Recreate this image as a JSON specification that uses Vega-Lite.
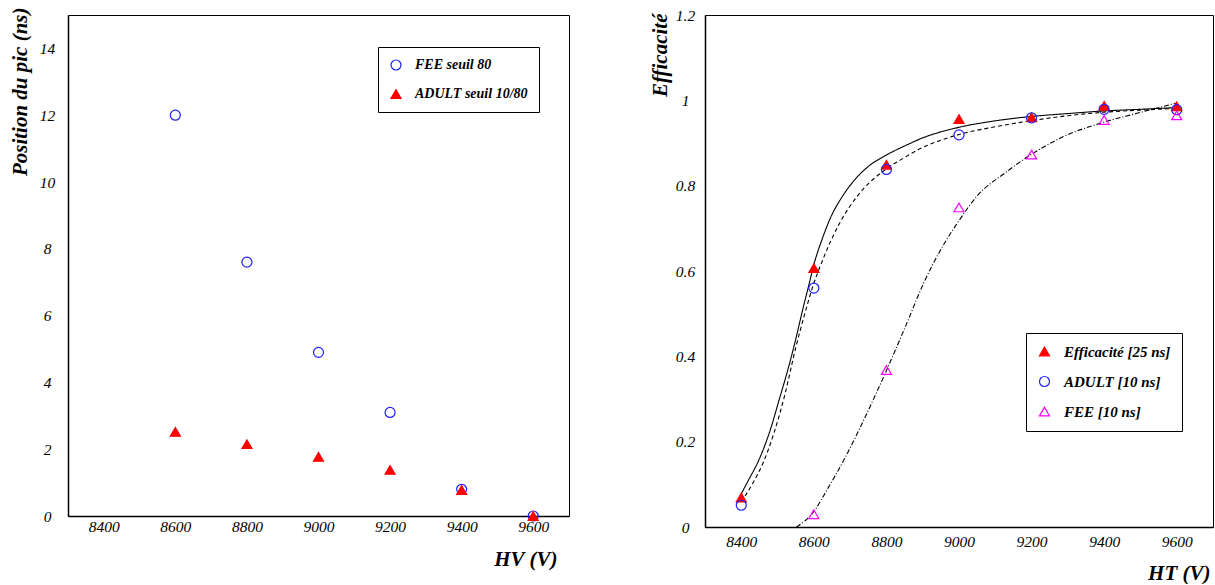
{
  "$schema": "https://vega.github.io/schema/vega-lite/v6.json",
  "background": "white",
  "autosize": {"type": "pad"},
  "padding": {"left": 8, "top": 6, "right": 0, "bottom": 0},
  "spacing": 136,
  "bounds": "flush",
  "config": {
    "view": {"stroke": "black", "strokeWidth": 1},
    "axis": {
      "ticks": false, "grid": false,
      "labelFont": "Liberation Serif, Times New Roman, serif", "labelFontStyle": "italic", "labelFontSize": 15.5, "labelColor": "black",
      "titleFont": "Liberation Serif, Times New Roman, serif", "titleFontStyle": "italic", "titleFontWeight": "bold", "titleFontSize": 21, "titleColor": "black",
      "domainColor": "black", "domainWidth": 1.5,
      "labelFlush": false, "labelOverlap": false
    },
    "legend": {
      "labelFont": "Liberation Serif, Times New Roman, serif", "labelFontStyle": "italic", "labelFontWeight": "bold", "labelColor": "black",
      "labelLimit": 400, "strokeColor": "black", "fillColor": "white", "symbolSize": 100, "symbolStrokeWidth": 1.2
    }
  },
  "resolve": {
    "scale": {"shape": "independent", "fill": "independent", "stroke": "independent", "strokeDash": "independent"},
    "legend": {"shape": "independent", "fill": "independent", "stroke": "independent"}
  },
  "datasets": {
    "left": [
      {"hv": 8600, "pos": 12.0, "series": "FEE seuil 80"},
      {"hv": 8800, "pos": 7.6, "series": "FEE seuil 80"},
      {"hv": 9000, "pos": 4.9, "series": "FEE seuil 80"},
      {"hv": 9200, "pos": 3.1, "series": "FEE seuil 80"},
      {"hv": 9400, "pos": 0.8, "series": "FEE seuil 80"},
      {"hv": 9600, "pos": 0.0, "series": "FEE seuil 80"},
      {"hv": 8600, "pos": 2.52, "series": "ADULT seuil 10/80"},
      {"hv": 8800, "pos": 2.15, "series": "ADULT seuil 10/80"},
      {"hv": 9000, "pos": 1.77, "series": "ADULT seuil 10/80"},
      {"hv": 9200, "pos": 1.38, "series": "ADULT seuil 10/80"},
      {"hv": 9400, "pos": 0.78, "series": "ADULT seuil 10/80"},
      {"hv": 9600, "pos": 0.0, "series": "ADULT seuil 10/80"}
    ],
    "rightPoints": [
      {"ht": 8400, "eff": 0.069, "serie": "Efficacité [25 ns]"},
      {"ht": 8600, "eff": 0.607, "serie": "Efficacité [25 ns]"},
      {"ht": 8800, "eff": 0.849, "serie": "Efficacité [25 ns]"},
      {"ht": 9000, "eff": 0.956, "serie": "Efficacité [25 ns]"},
      {"ht": 9200, "eff": 0.960, "serie": "Efficacité [25 ns]"},
      {"ht": 9400, "eff": 0.987, "serie": "Efficacité [25 ns]"},
      {"ht": 9600, "eff": 0.986, "serie": "Efficacité [25 ns]"},
      {"ht": 8400, "eff": 0.051, "serie": "ADULT [10 ns]"},
      {"ht": 8600, "eff": 0.560, "serie": "ADULT [10 ns]"},
      {"ht": 8800, "eff": 0.838, "serie": "ADULT [10 ns]"},
      {"ht": 9000, "eff": 0.919, "serie": "ADULT [10 ns]"},
      {"ht": 9200, "eff": 0.959, "serie": "ADULT [10 ns]"},
      {"ht": 9400, "eff": 0.979, "serie": "ADULT [10 ns]"},
      {"ht": 9600, "eff": 0.978, "serie": "ADULT [10 ns]"},
      {"ht": 8600, "eff": 0.030, "serie": "FEE [10 ns]"},
      {"ht": 8800, "eff": 0.368, "serie": "FEE [10 ns]"},
      {"ht": 9000, "eff": 0.749, "serie": "FEE [10 ns]"},
      {"ht": 9200, "eff": 0.873, "serie": "FEE [10 ns]"},
      {"ht": 9400, "eff": 0.954, "serie": "FEE [10 ns]"},
      {"ht": 9600, "eff": 0.965, "serie": "FEE [10 ns]"}
    ],
    "rightCurves": [
      {"ht": 8395, "eff": 0.070, "fit": "fit25"},
      {"ht": 8420, "eff": 0.110, "fit": "fit25"},
      {"ht": 8450, "eff": 0.160, "fit": "fit25"},
      {"ht": 8477, "eff": 0.220, "fit": "fit25"},
      {"ht": 8505, "eff": 0.300, "fit": "fit25"},
      {"ht": 8532, "eff": 0.380, "fit": "fit25"},
      {"ht": 8550, "eff": 0.440, "fit": "fit25"},
      {"ht": 8568, "eff": 0.505, "fit": "fit25"},
      {"ht": 8587, "eff": 0.570, "fit": "fit25"},
      {"ht": 8600, "eff": 0.615, "fit": "fit25"},
      {"ht": 8623, "eff": 0.675, "fit": "fit25"},
      {"ht": 8646, "eff": 0.725, "fit": "fit25"},
      {"ht": 8675, "eff": 0.770, "fit": "fit25"},
      {"ht": 8705, "eff": 0.806, "fit": "fit25"},
      {"ht": 8750, "eff": 0.845, "fit": "fit25"},
      {"ht": 8796, "eff": 0.870, "fit": "fit25"},
      {"ht": 8850, "eff": 0.893, "fit": "fit25"},
      {"ht": 8900, "eff": 0.912, "fit": "fit25"},
      {"ht": 8996, "eff": 0.936, "fit": "fit25"},
      {"ht": 9100, "eff": 0.952, "fit": "fit25"},
      {"ht": 9197, "eff": 0.962, "fit": "fit25"},
      {"ht": 9300, "eff": 0.969, "fit": "fit25"},
      {"ht": 9397, "eff": 0.975, "fit": "fit25"},
      {"ht": 9500, "eff": 0.979, "fit": "fit25"},
      {"ht": 9597, "eff": 0.983, "fit": "fit25"},
      {"ht": 8400, "eff": 0.059, "fit": "fitADULT"},
      {"ht": 8430, "eff": 0.100, "fit": "fitADULT"},
      {"ht": 8460, "eff": 0.150, "fit": "fitADULT"},
      {"ht": 8490, "eff": 0.220, "fit": "fitADULT"},
      {"ht": 8520, "eff": 0.310, "fit": "fitADULT"},
      {"ht": 8550, "eff": 0.420, "fit": "fitADULT"},
      {"ht": 8575, "eff": 0.500, "fit": "fitADULT"},
      {"ht": 8596, "eff": 0.561, "fit": "fitADULT"},
      {"ht": 8623, "eff": 0.623, "fit": "fitADULT"},
      {"ht": 8669, "eff": 0.709, "fit": "fitADULT"},
      {"ht": 8723, "eff": 0.779, "fit": "fitADULT"},
      {"ht": 8796, "eff": 0.837, "fit": "fitADULT"},
      {"ht": 8850, "eff": 0.866, "fit": "fitADULT"},
      {"ht": 8887, "eff": 0.884, "fit": "fitADULT"},
      {"ht": 8996, "eff": 0.919, "fit": "fitADULT"},
      {"ht": 9100, "eff": 0.938, "fit": "fitADULT"},
      {"ht": 9197, "eff": 0.952, "fit": "fitADULT"},
      {"ht": 9300, "eff": 0.964, "fit": "fitADULT"},
      {"ht": 9397, "eff": 0.972, "fit": "fitADULT"},
      {"ht": 9500, "eff": 0.977, "fit": "fitADULT"},
      {"ht": 9597, "eff": 0.981, "fit": "fitADULT"},
      {"ht": 8552, "eff": 0.000, "fit": "fitFEE"},
      {"ht": 8596, "eff": 0.032, "fit": "fitFEE"},
      {"ht": 8641, "eff": 0.094, "fit": "fitFEE"},
      {"ht": 8687, "eff": 0.164, "fit": "fitFEE"},
      {"ht": 8741, "eff": 0.257, "fit": "fitFEE"},
      {"ht": 8796, "eff": 0.359, "fit": "fitFEE"},
      {"ht": 8851, "eff": 0.467, "fit": "fitFEE"},
      {"ht": 8905, "eff": 0.576, "fit": "fitFEE"},
      {"ht": 8960, "eff": 0.665, "fit": "fitFEE"},
      {"ht": 9000, "eff": 0.718, "fit": "fitFEE"},
      {"ht": 9051, "eff": 0.777, "fit": "fitFEE"},
      {"ht": 9124, "eff": 0.828, "fit": "fitFEE"},
      {"ht": 9197, "eff": 0.872, "fit": "fitFEE"},
      {"ht": 9288, "eff": 0.915, "fit": "fitFEE"},
      {"ht": 9388, "eff": 0.946, "fit": "fitFEE"},
      {"ht": 9488, "eff": 0.969, "fit": "fitFEE"},
      {"ht": 9597, "eff": 0.993, "fit": "fitFEE"}
    ]
  },
  "hconcat": [
    {
      "width": 501,
      "height": 501,
      "data": {"name": "left"},
      "mark": {"type": "point", "size": 100, "strokeWidth": 1.2, "opacity": 1},
      "encoding": {
        "x": {
          "field": "hv", "type": "quantitative",
          "scale": {"domain": [8300, 9700], "nice": false, "zero": false},
          "axis": {
            "orient": "bottom",
            "values": [8400, 8600, 8800, 9000, 9200, 9400, 9600],
            "labelExpr": "format(datum.value, 'd')",
            "labelPadding": 3, "labelBaseline": "top", "labelAlign": "center",
            "title": "HV (V)", "titleX": 489, "titleY": 49, "titleAlign": "right", "titleBaseline": "alphabetic", "titleAngle": 0
          }
        },
        "y": {
          "field": "pos", "type": "quantitative",
          "scale": {"domain": [0, 15], "nice": false, "zero": false},
          "axis": {
            "orient": "left",
            "values": [0, 2, 4, 6, 8, 10, 12, 14],
            "labelExpr": "format(datum.value, 'd')",
            "labelPadding": 21, "labelAlign": "center", "labelBaseline": "middle",
            "title": "Position du pic (ns)", "titleX": -42, "titleY": -8, "titleAngle": -90, "titleAlign": "right", "titleBaseline": "alphabetic"
          }
        },
        "shape": {
          "field": "series", "type": "nominal",
          "scale": {"domain": ["FEE seuil 80", "ADULT seuil 10/80"], "range": ["circle", "triangle-up"]},
          "legend": {"orient": "none", "legendX": 310, "legendY": 32, "title": null, "padding": 11, "rowPadding": 14, "labelOffset": 12, "labelFontSize": 14}
        },
        "stroke": {
          "field": "series", "type": "nominal",
          "scale": {"domain": ["FEE seuil 80", "ADULT seuil 10/80"], "range": ["#1f1fff", "#ff0000"]},
          "legend": {"orient": "none", "legendX": 310, "legendY": 32, "title": null, "padding": 11, "rowPadding": 14, "labelOffset": 12, "labelFontSize": 14}
        },
        "fill": {
          "field": "series", "type": "nominal",
          "scale": {"domain": ["FEE seuil 80", "ADULT seuil 10/80"], "range": ["transparent", "#ff0000"]},
          "legend": {"orient": "none", "legendX": 310, "legendY": 32, "title": null, "padding": 11, "rowPadding": 14, "labelOffset": 12, "labelFontSize": 14}
        }
      }
    },
    {
      "width": 508,
      "height": 512,
      "encoding": {
        "x": {
          "field": "ht", "type": "quantitative",
          "scale": {"domain": [8300, 9700], "nice": false, "zero": false},
          "axis": {
            "orient": "bottom",
            "values": [8400, 8600, 8800, 9000, 9200, 9400, 9600],
            "labelExpr": "format(datum.value, 'd')",
            "labelPadding": 7, "labelBaseline": "top", "labelAlign": "center",
            "title": "HT (V)", "titleX": 505, "titleY": 52, "titleAlign": "right", "titleBaseline": "alphabetic", "titleAngle": 0
          }
        },
        "y": {
          "field": "eff", "type": "quantitative",
          "scale": {"domain": [0, 1.2], "nice": false, "zero": false},
          "axis": {
            "orient": "left",
            "values": [0, 0.2, 0.4, 0.6, 0.8, 1, 1.2],
            "labelExpr": "format(datum.value, '~g')",
            "labelPadding": 20, "labelAlign": "center", "labelBaseline": "middle",
            "title": "Efficacité", "titleX": -39, "titleY": -2, "titleAngle": -90, "titleAlign": "right", "titleBaseline": "alphabetic"
          }
        }
      },
      "layer": [
        {
          "data": {"name": "rightCurves"},
          "mark": {"type": "line", "color": "black", "strokeWidth": 1.1, "interpolate": "monotone"},
          "encoding": {
            "strokeDash": {
              "field": "fit", "type": "nominal",
              "scale": {"domain": ["fit25", "fitADULT", "fitFEE"], "range": [[1, 0], [4, 3], [5, 2, 1, 2]]},
              "legend": null
            }
          }
        },
        {
          "data": {"name": "rightPoints"},
          "mark": {"type": "point", "size": 100, "strokeWidth": 1.2, "opacity": 1},
          "encoding": {
            "shape": {
              "field": "serie", "type": "nominal",
              "scale": {"domain": ["Efficacité [25 ns]", "ADULT [10 ns]", "FEE [10 ns]"], "range": ["triangle-up", "circle", "triangle-up"]},
              "legend": {"orient": "none", "legendX": 321, "legendY": 318, "title": null, "padding": 11, "rowPadding": 14, "labelOffset": 12, "labelFontSize": 15}
            },
            "stroke": {
              "field": "serie", "type": "nominal",
              "scale": {"domain": ["Efficacité [25 ns]", "ADULT [10 ns]", "FEE [10 ns]"], "range": ["#ff0000", "#1f1fff", "#ff00ff"]},
              "legend": {"orient": "none", "legendX": 321, "legendY": 318, "title": null, "padding": 11, "rowPadding": 14, "labelOffset": 12, "labelFontSize": 15}
            },
            "fill": {
              "field": "serie", "type": "nominal",
              "scale": {"domain": ["Efficacité [25 ns]", "ADULT [10 ns]", "FEE [10 ns]"], "range": ["#ff0000", "transparent", "transparent"]},
              "legend": {"orient": "none", "legendX": 321, "legendY": 318, "title": null, "padding": 11, "rowPadding": 14, "labelOffset": 12, "labelFontSize": 15}
            }
          }
        }
      ]
    }
  ]
}
